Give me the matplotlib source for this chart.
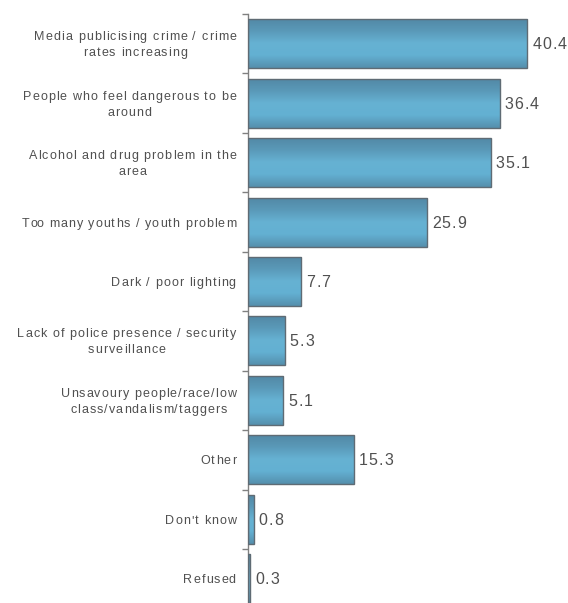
import matplotlib.pyplot as plt
import numpy as np
from matplotlib.colors import LinearSegmentedColormap
from matplotlib.font_manager import FontProperties

plt.rcParams["font.family"] = ["Liberation Sans", "DejaVu Sans"]

# Reasons for feeling unsafe (%)
categories = [
    "Media publicising crime / crime\nrates increasing",
    "People who feel dangerous to be\naround",
    "Alcohol and drug problem in the\narea",
    "Too many youths / youth problem",
    "Dark / poor lighting",
    "Lack of police presence / security\nsurveillance",
    "Unsavoury people/race/low\nclass/vandalism/taggers",
    "Other",
    "Don't know",
    "Refused",
]
values = [40.4, 36.4, 35.1, 25.9, 7.7, 5.3, 5.1, 15.3, 0.8, 0.3]

DPI = 100
XMAX = 46.3
AX_W = 320
fig = plt.figure(figsize=(5.68, 6.03), dpi=DPI)
ax = fig.add_axes([248 / 568, -5.5 / 603, AX_W / 568, 594.5 / 603])
renderer = fig.canvas.get_renderer()
PT = 72 / DPI  # pixels -> points


def text_width(s, prop):
    # advance width in pixels, robust to trailing spaces
    w1, _, _ = renderer.get_text_width_height_descent(s + "|", prop, ismath=False)
    w2, _, _ = renderer.get_text_width_height_descent("|", prop, ismath=False)
    return w1 - w2


def tracked_line(x_px, y, dy_px, s, prop, track, color):
    # draw a string char by char with extra letter spacing (x_px = left edge)
    for i, ch in enumerate(s):
        if ch == " ":
            continue
        off = x_px + text_width(s[:i], prop) + i * track
        ax.annotate(ch, xy=(0, y), xycoords=("axes fraction", "data"),
                    xytext=(off * PT, -dy_px * PT), textcoords="offset points",
                    ha="left", va="baseline", fontproperties=prop,
                    color=color, annotation_clip=False)


def line_width(s, prop, track):
    return text_width(s, prop) + track * (len(s) - 1)


n = len(values)
pos = np.arange(n)
bars = ax.barh(pos, values, height=0.825, color="none", edgecolor="#5f6b74",
               linewidth=1.0, zorder=3)

# vertical shading: darker at top/bottom edges, lighter in the middle
shade = LinearSegmentedColormap.from_list(
    "bar", ["#5590ad", "#63b0d2", "#66b2d3", "#5a99b8", "#5288a5"])
grad = np.linspace(0, 1, 64).reshape(-1, 1)
for b in bars:
    x0, y0 = b.get_x(), b.get_y()
    w, h = b.get_width(), b.get_height()
    im = ax.imshow(grad, cmap=shade, aspect="auto", origin="lower",
                   extent=[x0, x0 + w, y0 + h, y0], zorder=2)
    im.set_clip_path(b)

ax.set_xlim(0, XMAX)
ax.set_ylim(n - 0.5, -0.5)

# category labels: block right-aligned, lines centred within the block
cat_prop = FontProperties(family="Liberation Sans", size=9)
cat_track = 1.0
for p, label in zip(pos, categories):
    lines = label.split("\n")
    widths = [line_width(l, cat_prop, cat_track) for l in lines]
    block = max(widths)
    right = -12
    for k, (l, wl) in enumerate(zip(lines, widths)):
        dy = 4.5 + 16 * (k - (len(lines) - 1) / 2)
        tracked_line(right - block / 2 - wl / 2, p, dy, l, cat_prop,
                     cat_track, "#505050")

# value labels
val_prop = FontProperties(family="Liberation Sans", size=11.5)
val_track = 1.0
for p, v in zip(pos, values):
    x_px = v / XMAX * AX_W + 5
    tracked_line(x_px, p, 5.5, f"{v:.1f}", val_prop, val_track, "#505050")

ax.set_yticks(np.arange(n + 1) - 0.5)
ax.set_yticklabels([])
ax.tick_params(axis="y", length=4, color="#808080", width=1)
ax.set_xticks([])
for s in ["top", "right", "bottom"]:
    ax.spines[s].set_visible(False)
ax.spines["left"].set_color("#808080")
ax.spines["left"].set_linewidth(1)

fig.savefig("out.png", dpi=DPI)
